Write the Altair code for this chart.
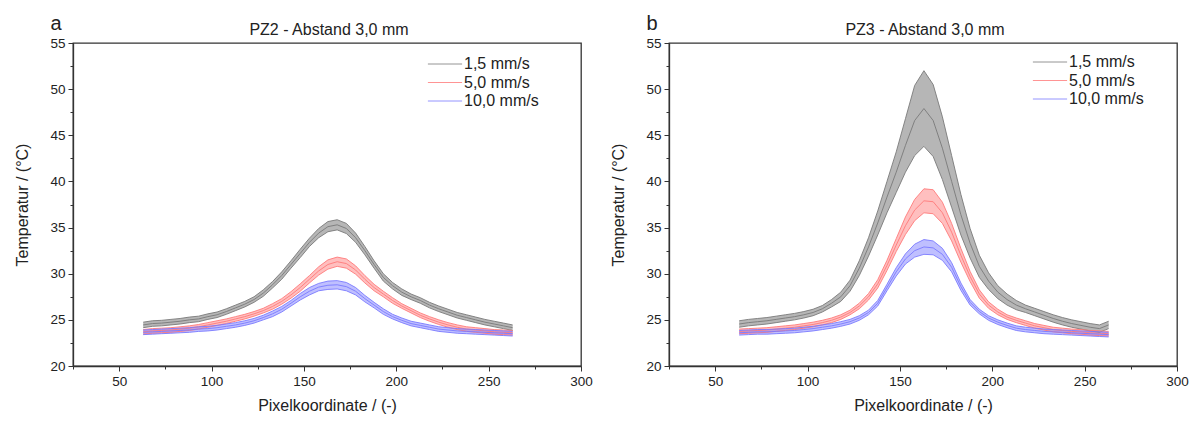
import altair as alt
import pandas as pd

FONT = "Liberation Sans"
SERIES = ["1,5 mm/s", "5,0 mm/s", "10,0 mm/s"]
FILL = ["#7a7a7a", "#ff8a8a", "#8a8aff"]
STROKE = ["#7a7a7a", "#ff7a7a", "#7a7aff"]

X = [63, 68, 73, 78, 83, 88, 93, 98, 103, 108, 113, 118, 123, 128, 133, 138, 143, 148, 153, 158,
     163, 168, 173, 178, 183, 188, 193, 198, 203, 208, 213, 218, 223, 228, 233, 238, 243, 248, 253, 258, 263]

# Panel a (PZ2)
A_GRAY_MEAN = [24.45, 24.6, 24.65, 24.75, 24.85, 25.0, 25.1, 25.35, 25.55, 25.9, 26.3, 26.7, 27.2, 27.9, 28.8, 29.8,
               31.0, 32.2, 33.4, 34.4, 35.1, 35.3, 34.9, 33.9, 32.5, 31.0, 29.6, 28.7, 28.0, 27.5, 27.1, 26.6, 26.2,
               25.85, 25.5, 25.25, 25.0, 24.75, 24.55, 24.35, 24.15]
A_GRAY_HALF = [0.3] * 13 + [0.35, 0.35, 0.4, 0.4, 0.45, 0.45, 0.5] + [0.55, 0.55, 0.55, 0.5] + \
              [0.45, 0.4, 0.4, 0.35, 0.35, 0.3, 0.3] + [0.3] * 10
A_RED_MEAN = [23.7, 23.8, 23.85, 23.9, 24.0, 24.1, 24.25, 24.45, 24.65, 24.85, 25.1, 25.35, 25.65, 26.0, 26.45, 27.0,
              27.7, 28.5, 29.4, 30.3, 31.0, 31.3, 31.1, 30.4, 29.4, 28.5, 27.8, 27.1, 26.5, 26.0, 25.5, 25.1, 24.75,
              24.45, 24.2, 24.0, 23.9, 23.8, 23.7, 23.65, 23.6]
A_RED_HALF = [0.25] * 13 + [0.25, 0.3, 0.3, 0.35, 0.4, 0.4, 0.45] + [0.5, 0.5, 0.5, 0.45] + \
             [0.4, 0.35, 0.3, 0.3, 0.25, 0.25, 0.25] + [0.25] * 10
A_BLUE_MEAN = [23.65, 23.7, 23.75, 23.8, 23.85, 23.9, 24.0, 24.05, 24.15, 24.3, 24.45, 24.65, 24.9, 25.25, 25.65, 26.15,
               26.8, 27.5, 28.1, 28.55, 28.75, 28.8, 28.6, 28.1, 27.3, 26.6, 25.9, 25.35, 24.95, 24.6, 24.4, 24.2, 24.0,
               23.9, 23.8, 23.75, 23.7, 23.65, 23.6, 23.55, 23.5]
A_BLUE_HALF = [0.25] * 13 + [0.25, 0.3, 0.3, 0.3, 0.35, 0.4, 0.4] + [0.45, 0.45, 0.45, 0.4] + \
              [0.35, 0.3, 0.3, 0.25, 0.25, 0.25, 0.25] + [0.25] * 10

# Panel b (PZ3)
B_GRAY_MEAN = [24.55, 24.7, 24.8, 24.9, 25.05, 25.2, 25.35, 25.55, 25.8, 26.2, 26.8, 27.5, 28.7, 30.6, 32.9, 35.5,
               38.3, 41.0, 43.9, 46.6, 47.9, 46.6, 43.6, 40.0, 36.4, 33.3, 30.8, 29.2, 28.0, 27.2, 26.6, 26.2, 25.85,
               25.5, 25.15, 24.85, 24.6, 24.4, 24.2, 24.05, 24.45]
B_GRAY_HALF = [0.35] * 10 + [0.4, 0.5, 0.6, 0.8, 1.0, 1.3, 1.7, 2.2, 2.9, 3.8, 4.1, 3.9, 3.4, 2.8, 2.2, 1.6, 1.2, 0.9,
                             0.7, 0.6, 0.5] + [0.4] * 10
B_RED_MEAN = [23.75, 23.8, 23.85, 23.9, 24.0, 24.1, 24.2, 24.35, 24.5, 24.7, 24.95, 25.3, 25.8, 26.5, 27.5, 28.9,
              30.9, 33.1, 35.2, 36.9, 37.9, 37.8, 36.6, 34.5, 32.0, 29.7, 27.8, 26.6, 25.85, 25.3, 24.95, 24.65, 24.35,
              24.15, 23.95, 23.85, 23.75, 23.7, 23.6, 23.55, 23.5]
B_RED_HALF = [0.25] * 13 + [0.3, 0.35, 0.45, 0.55, 0.7, 0.95, 1.15, 1.3, 1.3, 1.15, 0.95, 0.75, 0.55, 0.45, 0.35,
                            0.3] + [0.25] * 12
B_BLUE_MEAN = [23.6, 23.65, 23.7, 23.7, 23.75, 23.8, 23.85, 23.95, 24.05, 24.2, 24.35, 24.55, 24.8, 25.2, 25.8, 26.8,
               28.5, 30.2, 31.6, 32.5, 32.9, 32.8, 32.1, 30.7, 28.6, 26.9, 25.9, 25.2, 24.75, 24.4, 24.1, 23.95, 23.85,
               23.75, 23.7, 23.65, 23.6, 23.55, 23.5, 23.45, 23.4]
B_BLUE_HALF = [0.25] * 15 + [0.3, 0.35, 0.45, 0.55, 0.7, 0.8, 0.75, 0.65, 0.5, 0.4, 0.3] + [0.25] * 15

X_TICKS = [25, 50, 75, 100, 125, 150, 175, 200, 225, 250, 275, 300]
Y_TICKS = [20, 22.5, 25, 27.5, 30, 32.5, 35, 37.5, 40, 42.5, 45, 47.5, 50, 52.5, 55]


def frame(series_list):
    rows = []
    for name, mean, half in series_list:
        for x, m, h in zip(X, mean, half):
            rows.append({"x": x, "series": name, "band": name, "mean": m,
                         "lo": round(m - h, 3), "hi": round(m + h, 3)})
    return pd.DataFrame(rows)


def panel(df, title, letter, leg_x, leg_y):
    xscale = alt.Scale(domain=[25, 300], nice=False, zero=False)
    yscale = alt.Scale(domain=[20, 55], nice=False, zero=False)
    xaxis = alt.Axis(values=X_TICKS, title="Pixelkoordinate / (-)", grid=False,
                     labelExpr="datum.value % 50 === 0 ? datum.label : ''",
                     tickSize={"condition": {"test": "datum.value % 50 === 0", "value": 5}, "value": 3},
                     labelFlush=False, labelOverlap=False, labelPadding=3, titlePadding=10)
    yaxis = alt.Axis(values=Y_TICKS, title="Temperatur / (°C)", grid=False,
                     labelExpr="datum.value % 5 === 0 ? datum.label : ''",
                     tickSize={"condition": {"test": "datum.value % 5 === 0", "value": 5}, "value": 3},
                     labelOverlap=False, labelPadding=3, titlePadding=19)
    base = alt.Chart(df)
    lines = base.transform_fold(["lo", "mean", "hi"], as_=["k", "v"]).mark_line(
        strokeWidth=1, opacity=0.9
    ).encode(
        x=alt.X("x:Q", scale=xscale, axis=xaxis),
        y=alt.Y("v:Q", scale=yscale, axis=yaxis),
        color=alt.Color("series:N", scale=alt.Scale(domain=SERIES, range=STROKE),
                        legend=alt.Legend(title=None, orient="none", legendX=leg_x, legendY=leg_y,
                                          symbolType="M-1.8,0H1.8", symbolSize=361, symbolStrokeWidth=1,
                                          symbolOpacity=0.8,
                                          labelFont=FONT, labelFontSize=16, labelColor="#222222",
                                          labelOffset=9, rowPadding=0.5)),
        detail="k:N",
    )
    area = base.mark_area(opacity=0.55, strokeWidth=0).encode(
        x=alt.X("x:Q", scale=xscale, axis=xaxis),
        y=alt.Y("lo:Q", scale=yscale, axis=yaxis),
        y2="hi:Q",
        fill=alt.Fill("band:N", scale=alt.Scale(domain=SERIES, range=FILL), legend=None),
    )
    lab = alt.Chart(pd.DataFrame({"t": [letter]})).mark_text(
        font=FONT, fontSize=20, align="center", baseline="middle", color="#222222"
    ).encode(x=alt.value(-17), y=alt.value(-19), text="t:N")
    ttl = alt.Chart(pd.DataFrame({"t": [title]})).mark_text(
        font=FONT, fontSize=16, align="center", baseline="middle", color="#222222"
    ).encode(x=alt.value(256), y=alt.value(-13), text="t:N")
    return alt.layer(area, lines, lab, ttl).resolve_scale(fill="independent", color="independent").properties(
        width=508, height=323)


df_a = frame([(SERIES[0], A_GRAY_MEAN, A_GRAY_HALF), (SERIES[1], A_RED_MEAN, A_RED_HALF),
              (SERIES[2], A_BLUE_MEAN, A_BLUE_HALF)])
df_b = frame([(SERIES[0], B_GRAY_MEAN, B_GRAY_HALF), (SERIES[1], B_RED_MEAN, B_RED_HALF),
              (SERIES[2], B_BLUE_MEAN, B_BLUE_HALF)])

pa = panel(df_a, "PZ2 - Abstand 3,0 mm", "a", 362, 11)
pb = panel(df_b, "PZ3 - Abstand 3,0 mm", "b", 371, 9)

chart = alt.hconcat(pa, pb, spacing=88, bounds="flush").resolve_scale(
    color="independent", fill="independent"
).configure_view(
    stroke="#333333", strokeWidth=1.3
).configure_axis(
    labelFont=FONT, titleFont=FONT, labelFontSize=13.5, titleFontSize=16,
    titleFontWeight="normal", labelColor="#222222", titleColor="#222222",
    domainColor="#333333", tickColor="#333333", domainWidth=1.3, tickWidth=1
).properties(
    padding={"left": 6, "top": 5, "right": 0, "bottom": 0}
)

chart.save("out.html", embed_options={"renderer": "svg", "actions": False})
